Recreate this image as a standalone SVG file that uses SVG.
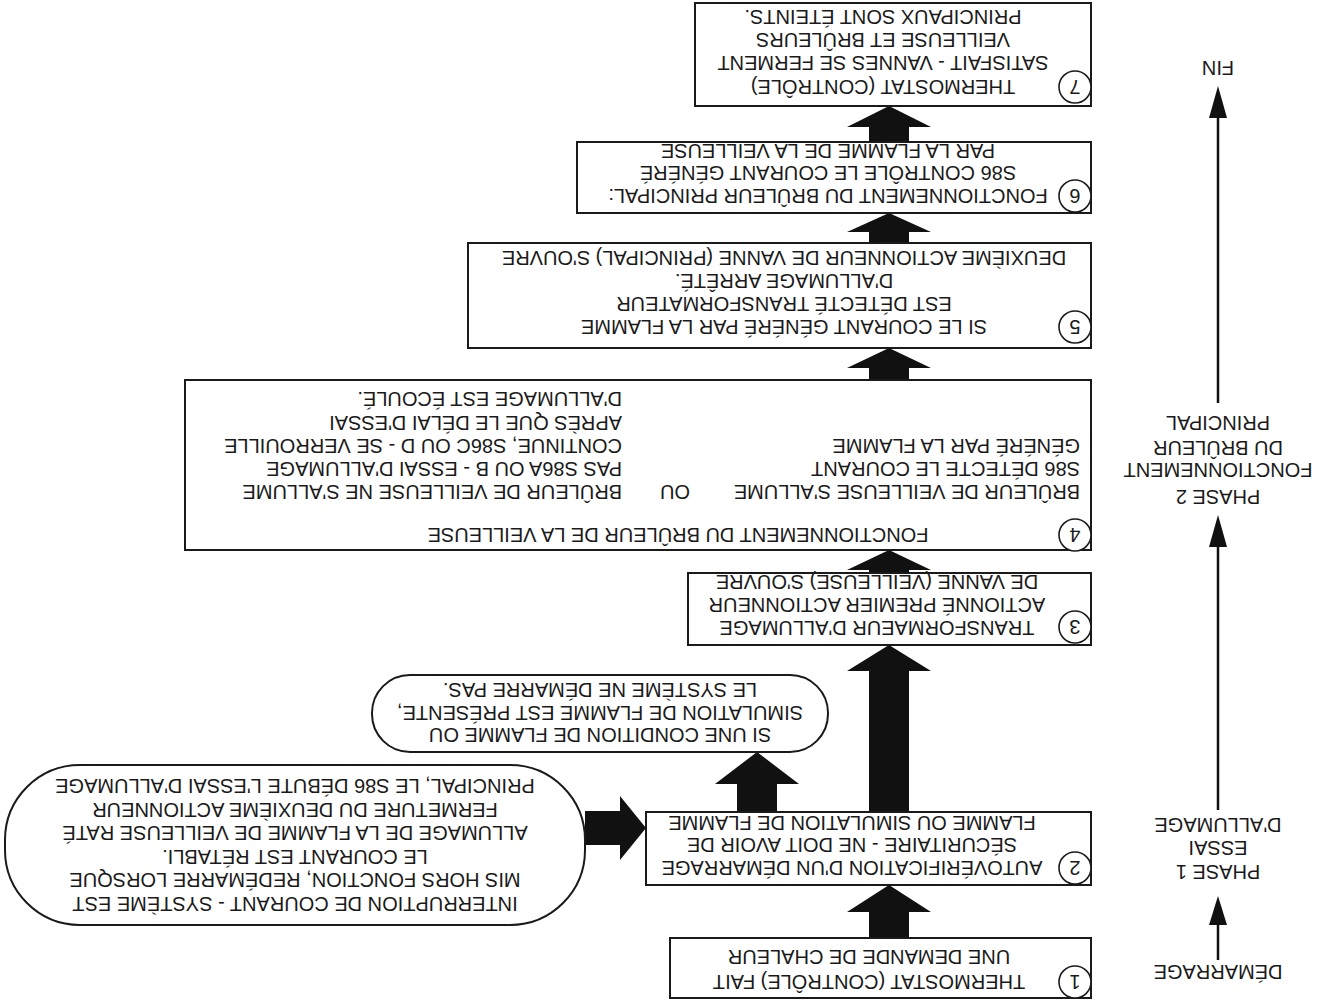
<svg xmlns="http://www.w3.org/2000/svg" width="1330" height="1007" viewBox="0 0 1330 1007">
<style>
.box{fill:#fff;stroke:#1a1a1a;stroke-width:2}
.oval{fill:#fff;stroke:#1a1a1a;stroke-width:2}
.num{fill:#fff;stroke:#1a1a1a;stroke-width:1.6}
.t{font-family:"Liberation Sans",Arial,sans-serif;font-size:20px;fill:#1a1a1a}
.m{text-anchor:middle}
.blk{fill:#111}
.ln{stroke:#111;stroke-width:2.5;fill:none}
</style>
<rect width="1330" height="1007" fill="#fff"/>
<g transform="rotate(180 665 503.5)">
<g id="connectors">
<polygon class="blk" points="421,69 461,69 461,95 483,95 441,122 399,95 421,95"/>
<polygon class="blk" points="421,195 461,195 461,336 483,336 441,362 399,336 421,336"/>
<polygon class="blk" points="421,434 461,434 461,437 483,437 441,457 399,437 421,437"/>
<polygon class="blk" points="421,627 461,627 461,639 483,639 441,659 399,639 421,639"/>
<polygon class="blk" points="421,764 461,764 461,775 483,775 441,794 399,775 421,775"/>
<polygon class="blk" points="421,865 461,865 461,880 483,880 441,901 399,880 421,880"/>
<polygon class="blk" points="553,195 593,195 593,223 615,223 573,255 531,223 553,223"/>
<polygon class="blk" points="745,162 710,162 710,147 684,179 710,211 710,196 745,196"/>
<line class="ln" x1="112" y1="47" x2="112" y2="84"/>
<polygon class="blk" points="103,82 121,82 112,111"/>
<line class="ln" x1="112" y1="197" x2="112" y2="462"/>
<polygon class="blk" points="103,460 121,460 112,492"/>
<line class="ln" x1="112" y1="604" x2="112" y2="891"/>
<polygon class="blk" points="103,889 121,889 112,921"/>
</g>
<g id="phases" class="t m">
<text x="112" y="42">DÉMARRAGE</text>
<text x="112" y="142">PHASE 1</text>
<text x="112" y="166">ESSAI</text>
<text x="112" y="189">D'ALLUMAGE</text>
<text x="112" y="517">PHASE 2</text>
<text x="112" y="544">FONCTIONNEMENT</text>
<text x="112" y="566">DU BRÛLEUR</text>
<text x="112" y="591">PRINCIPAL</text>
<text x="112" y="946">FIN</text>
</g>
<g id="node1">
<rect class="box" x="239" y="9" width="421" height="60"/>
<circle class="num" cx="255" cy="25" r="16"/>
<text class="t m" x="255" y="32">1</text>
<text class="t m" x="461" y="32">THERMOSTAT (CONTRÔLE) FAIT</text>
<text class="t m" x="461" y="57">UNE DEMANDE DE CHALEUR</text>
</g>
<g id="node2">
<rect class="box" x="239" y="122" width="445" height="73"/>
<circle class="num" cx="255" cy="139" r="16"/>
<text class="t m" x="255" y="146">2</text>
<text class="t m" x="478" y="146">AUTOVÉRIFICATION D'UN DÉMARRAGE</text>
<text class="t m" x="478" y="169">SÉCURITAIRE - NE DOIT AVOIR DE</text>
<text class="t m" x="478" y="191">FLAMME OU SIMULATION DE FLAMME</text>
</g>
<g id="ovalA">
<rect class="oval" x="502" y="255" width="456" height="77" rx="38" ry="38"/>
<text class="t m" x="730" y="279">SI UNE CONDITION DE FLAMME OU</text>
<text class="t m" x="730" y="301">SIMULATION DE FLAMME EST PRÉSENTE,</text>
<text class="t m" x="730" y="324">LE SYSTÈME NE DÉMARRE PAS.</text>
</g>
<g id="ovalB">
<rect class="oval" x="745" y="82" width="580" height="160" rx="75" ry="75"/>
<text class="t m" x="1035" y="110">INTERRUPTION DE COURANT - SYSTÈME EST</text>
<text class="t m" x="1035" y="134">MIS HORS FONCTION, REDÉMARRE LORSQUE</text>
<text class="t m" x="1035" y="157">LE COURANT EST RÉTABLI.</text>
<text class="t m" x="1035" y="181">ALLUMAGE DE LA FLAMME DE VEILLEUSE RATÉ</text>
<text class="t m" x="1035" y="204">FERMETURE DU DEUXIÈME ACTIONNEUR</text>
<text class="t m" x="1035" y="228">PRINCIPAL, LE S86 DÉBUTE L'ESSAI D'ALLUMAGE</text>
</g>
<g id="node3">
<rect class="box" x="239" y="362" width="403" height="72"/>
<circle class="num" cx="255" cy="380" r="16"/>
<text class="t m" x="255" y="387">3</text>
<text class="t m" x="453" y="386">TRANSFORMAEUR D'ALLUMAGE</text>
<text class="t m" x="453" y="409">ACTIONNÉ PREMIER ACTIONNEUR</text>
<text class="t m" x="453" y="432">DE VANNE (VEILLEUSE) S'OUVRE</text>
</g>
<g id="node4">
<rect class="box" x="239" y="457" width="906" height="170"/>
<circle class="num" cx="255" cy="472" r="16"/>
<text class="t m" x="255" y="479">4</text>
<text class="t m" x="652" y="479">FONCTIONNEMENT DU BRÛLEUR DE LA VEILLEUSE</text>
<text class="t" x="250" y="522">BRÛLEUR DE VEILLEUSE S'ALLUME</text>
<text class="t" x="250" y="545">S86 DÉTECTE LE COURANT</text>
<text class="t" x="250" y="568">GÉNÉRÉ PAR LA FLAMME</text>
<text class="t" x="640" y="522">OU</text>
<text class="t" x="708" y="522">BRÛLEUR DE VEILLEUSE NE S'ALLUME</text>
<text class="t" x="708" y="545">PAS S86A OU B - ESSAI D'ALLUMAGE</text>
<text class="t" x="708" y="568">CONTINUE, S86C OU D - SE VERROUILLE</text>
<text class="t" x="708" y="591">APRÈS QUE LE DÉLAI D'ESSAI</text>
<text class="t" x="708" y="615">D'ALLUMAGE EST ÉCOULÉ.</text>
</g>
<g id="node5">
<rect class="box" x="239" y="659" width="623" height="105"/>
<circle class="num" cx="255" cy="680" r="16"/>
<text class="t m" x="255" y="687">5</text>
<text class="t m" x="546" y="687">SI LE COURANT GÉNÉRÉ PAR LA FLAMME</text>
<text class="t m" x="546" y="710">EST DÉTECTÉ TRANSFORMATEUR</text>
<text class="t m" x="546" y="733">D'ALLUMAGE ARRÊTÉ.</text>
<text class="t m" x="546" y="756">DEUXIÈME ACTIONNEUR DE VANNE (PRINCIPAL) S'OUVRE</text>
</g>
<g id="node6">
<rect class="box" x="239" y="794" width="514" height="71"/>
<circle class="num" cx="255" cy="811" r="16"/>
<text class="t m" x="255" y="818">6</text>
<text class="t m" x="502" y="818">FONCTIONNEMENT DU BRÛLEUR PRINCIPAL:</text>
<text class="t m" x="502" y="841">S86 CONTRÔLE LE COURANT GÉNÉRÉ</text>
<text class="t m" x="502" y="863">PAR LA FLAMME DE LA VEILLEUSE</text>
</g>
<g id="node7">
<rect class="box" x="239" y="901" width="396" height="103"/>
<circle class="num" cx="255" cy="920" r="16"/>
<text class="t m" x="255" y="927">7</text>
<text class="t m" x="447" y="927">THERMOSTAT (CONTRÔLE)</text>
<text class="t m" x="447" y="951">SATISFAIT - VANNES SE FERMENT</text>
<text class="t m" x="447" y="974">VEILLEUSE ET BRÛLEURS</text>
<text class="t m" x="447" y="997">PRINCIPAUX SONT ÉTEINTS.</text>
</g>
</g>
</svg>
